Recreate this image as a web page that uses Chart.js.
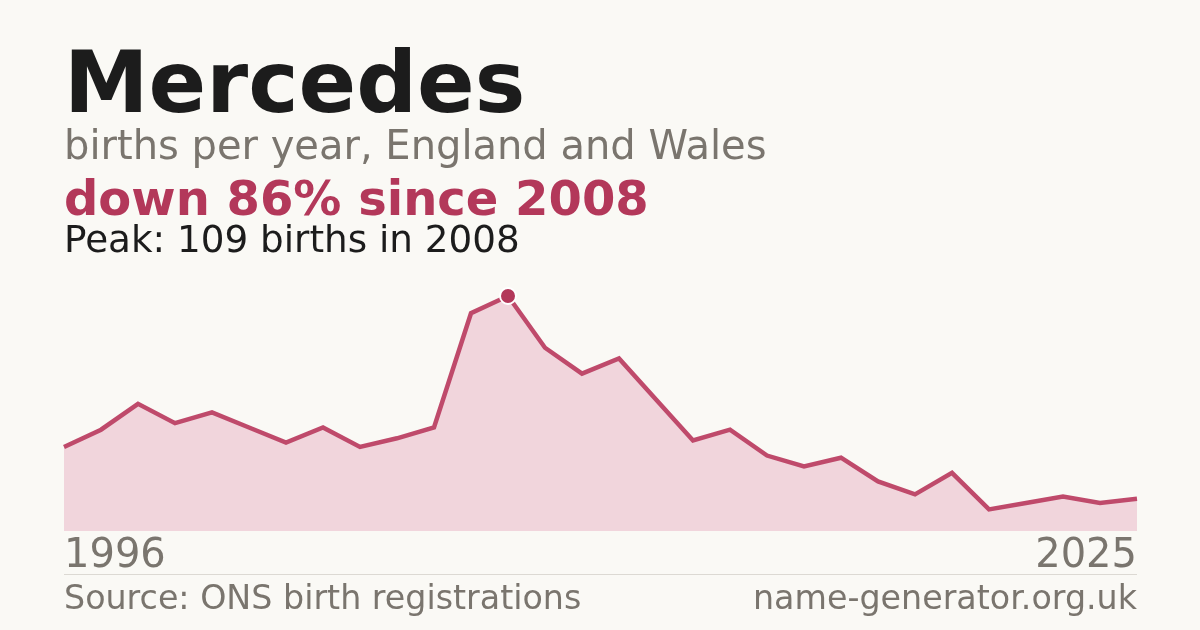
<!DOCTYPE html>
<html>
<head>
<meta charset="utf-8">
<script src="https://cdn.jsdelivr.net/npm/chart.js@4/dist/chart.umd.min.js"></script>
<style>
  html, body { margin: 0; padding: 0; background: #faf9f5; }
  #page { position: relative; width: 1200px; height: 630px; overflow: hidden;
          font-family: 'DejaVu Sans', sans-serif; }
  .txt { position: absolute; left: 64px; line-height: 1; white-space: nowrap; }
  #title    { top: 40px;  font-size: 85px; font-weight: bold; color: #1c1c1c; }
  #subtitle { top: 125px; font-size: 40px; color: #7a756e; }
  #change   { top: 174px; font-size: 48px; font-weight: bold; color: #b3385a; }
  #peak     { top: 221px; font-size: 37.3px; color: #1c1c1c; }
  #rule     { position: absolute; left: 64px; width: 1073px; top: 574px; height: 1px; background: #dcd9d3; }
  #source   { top: 581px; font-size: 33.3px; color: #7a756e; }
  #site     { top: 581px; left: auto; right: 63px; font-size: 33.3px; color: #7a756e; }
  #wrap { position: absolute; left: 0; top: 0; width: 1200px; height: 630px; }
</style>
</head>
<body>
<div id="page">
  <div id="wrap"><canvas id="chart"></canvas></div>
  <div class="txt" id="title">Mercedes</div>
  <div class="txt" id="subtitle">births per year, England and Wales</div>
  <div class="txt" id="change">down 86% since 2008</div>
  <div class="txt" id="peak">Peak: 109 births in 2008</div>
  <div id="rule"></div>
  <div class="txt" id="source">Source: ONS birth registrations</div>
  <div class="txt" id="site">name-generator.org.uk</div>
</div>
<script>
'use strict';
// ── Data ───────────────────────────────────────────────────────────────────
const YEARS = ['1996','1997','1998','1999','2000','2001','2002','2003','2004','2005',
               '2006','2007','2008','2009','2010','2011','2012','2013','2014','2015',
               '2016','2017','2018','2019','2020','2021','2022','2023','2024','2025'];
const BIRTHS = [39, 47, 59, 50, 55, 48, 41, 48, 39, 43,
                48, 101, 109, 85, 73, 80, 61, 42, 47, 35,
                30, 34, 23, 17, 27, 10, 13, 16, 13, 15];

const RED   = '#b3385a';
const LINE  = '#bf4a6b';
const FILL  = '#f1d5dc';
const GREY  = '#7a756e';

const peakIdx = BIRTHS.indexOf(Math.max(...BIRTHS));
const last = YEARS.length - 1;

new Chart(document.getElementById('chart'), {
    type: 'line',
    data: {
        labels: YEARS,
        datasets: [{
            data: BIRTHS,
            borderColor: LINE,
            borderWidth: 4.5,
            backgroundColor: FILL,
            fill: 'origin',
            tension: 0,
            clip: false,
            pointRadius: BIRTHS.map((_, i) => i === peakIdx ? 8 : 0),
            pointHoverRadius: 0,
            pointBackgroundColor: RED,
            pointBorderColor: '#ffffff',
            pointBorderWidth: 2,
        }]
    },
    options: {
        animation: false,
        responsive: true,
        maintainAspectRatio: false,
        layout: { padding: { left: 64, right: 63, top: 296, bottom: 55 } },
        plugins: { legend: { display: false }, tooltip: { enabled: false } },
        scales: {
            y: { display: false, min: 0, max: 109 },
            x: {
                grid: { display: false },
                border: { display: false },
                ticks: {
                    autoSkip: false,
                    maxRotation: 0,
                    align: 'inner',
                    padding: -6,
                    color: GREY,
                    font: { family: "'DejaVu Sans', sans-serif", size: 40 },
                    callback: (v, i) => (i === 0 || i === last) ? YEARS[i] : ''
                }
            }
        }
    }
});
</script>
</body>
</html>
